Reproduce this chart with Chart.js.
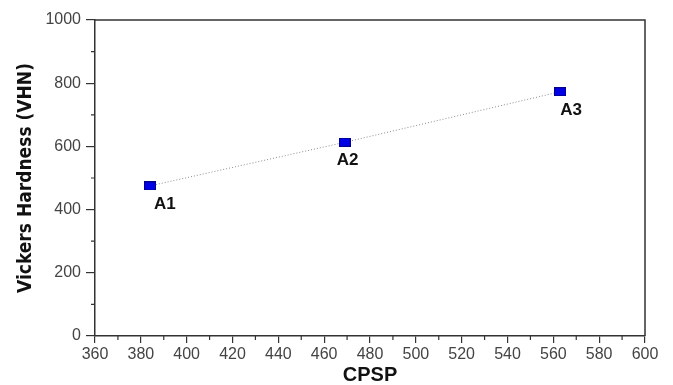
<!DOCTYPE html>
<html>
<head>
<meta charset="utf-8">
<script src="https://cdn.jsdelivr.net/npm/chart.js@4.4.0/dist/chart.umd.min.js"></script>
<style>
  html, body { margin: 0; padding: 0; background: #fff; }
  #wrap { width: 673px; height: 385px; }
</style>
</head>
<body>
<div id="wrap"><canvas id="chart" width="673" height="385"></canvas></div>
<script>
const sampleNames = ["A1", "A2", "A3"];
const cpsp = [384, 469, 563];
const hardness = [475, 613, 773];
const xTicks = [360, 380, 400, 420, 440, 460, 480, 500, 520, 540, 560, 580, 600];
const yTicks = [0, 200, 400, 600, 800, 1000];

// little blue rectangle marker
const marker = document.createElement("canvas");
marker.width = 12;
marker.height = 9;
const mctx = marker.getContext("2d");
mctx.fillStyle = "#00008b";
mctx.fillRect(0, 0, 12, 9);
mctx.fillStyle = "#0000e6";
mctx.fillRect(1, 1, 10, 7);

const axisColor = "#333";

const extras = {
  id: "extras",
  afterDraw(chart) {
    const ctx = chart.ctx;
    const a = chart.chartArea;
    const xs = chart.scales.x;
    const ys = chart.scales.y;
    ctx.save();
    ctx.strokeStyle = axisColor;
    ctx.lineWidth = 1.5;
    // top and right frame
    ctx.beginPath();
    ctx.moveTo(a.left, a.top);
    ctx.lineTo(a.right, a.top);
    ctx.lineTo(a.right, a.bottom);
    ctx.stroke();
    // minor ticks
    ctx.lineWidth = 1.2;
    ctx.beginPath();
    for (let i = 0; i < xTicks.length - 1; i++) {
      const px = xs.getPixelForValue((xTicks[i] + xTicks[i + 1]) / 2);
      ctx.moveTo(px, a.bottom);
      ctx.lineTo(px, a.bottom + 4);
    }
    for (let i = 0; i < yTicks.length - 1; i++) {
      const py = ys.getPixelForValue((yTicks[i] + yTicks[i + 1]) / 2);
      ctx.moveTo(a.left, py);
      ctx.lineTo(a.left - 4, py);
    }
    ctx.stroke();
    // point labels
    ctx.fillStyle = "#111";
    ctx.font = "bold 17px Arial, 'Liberation Sans', sans-serif";
    ctx.textBaseline = "middle";
    const offs = [[4, 18], [-8, 18], [0, 19]];
    chart.getDatasetMeta(0).data.forEach((pt, i) => {
      ctx.fillText(sampleNames[i], pt.x + offs[i][0], pt.y + offs[i][1]);
    });
    ctx.restore();
  }
};

const data = {
  datasets: [
    {
      label: "Hardness",
      data: cpsp.map((x, i) => ({ x: x, y: hardness[i] })),
      showLine: true,
      borderColor: "#8a8a8a",
      borderWidth: 1,
      borderDash: [1, 2],
      pointStyle: marker,
      pointRadius: 6,
      pointHoverRadius: 6,
    },
  ],
};

const tickFont = { family: "Arial, 'Liberation Sans', sans-serif", size: 16 };

const config = {
  type: "scatter",
  data: data,
  options: {
    responsive: false,
    animation: false,
    layout: { padding: { top: 20, right: 28, left: 0, bottom: 0 } },
    plugins: {
      legend: { display: false },
      tooltip: { enabled: false },
    },
    scales: {
      x: {
        type: "linear",
        min: 360,
        max: 600,
        afterBuildTicks: (scale) => { scale.ticks = xTicks.map(v => ({ value: v })); },
        afterFit: (scale) => { scale.height = 49; },
        grid: { drawOnChartArea: false, drawTicks: true, tickLength: 7, color: axisColor, lineWidth: 1.2 },
        border: { color: axisColor, width: 1.5 },
        ticks: { color: "#444", padding: 2, font: tickFont, maxRotation: 0, callback: (v) => String(v) },
        title: {
          display: true,
          text: "CPSP",
          color: "#111",
          font: { family: "Arial, 'Liberation Sans', sans-serif", size: 20, weight: "bold", lineHeight: 1 },
          padding: { top: 0, bottom: 0 },
        },
      },
      y: {
        type: "linear",
        min: 0,
        max: 1000,
        afterBuildTicks: (scale) => { scale.ticks = yTicks.map(v => ({ value: v })); },
        afterFit: (scale) => { scale.width = 95; },
        grid: { drawOnChartArea: false, drawTicks: true, tickLength: 9, color: axisColor, lineWidth: 1.2 },
        border: { color: axisColor, width: 1.5 },
        ticks: { color: "#444", padding: 5, font: tickFont, callback: (v) => String(v) },
        title: {
          display: true,
          text: "Vickers Hardness (VHN)",
          color: "#111",
          font: { family: "'DejaVu Sans Condensed', 'Liberation Sans Narrow', Arial, sans-serif", size: 19, weight: "bold", lineHeight: 1 },
          padding: { top: 17, bottom: 0 },
        },
      },
    },
  },
  plugins: [extras],
};

const chart = new Chart(document.getElementById("chart").getContext("2d"), config);
</script>
</body>
</html>
